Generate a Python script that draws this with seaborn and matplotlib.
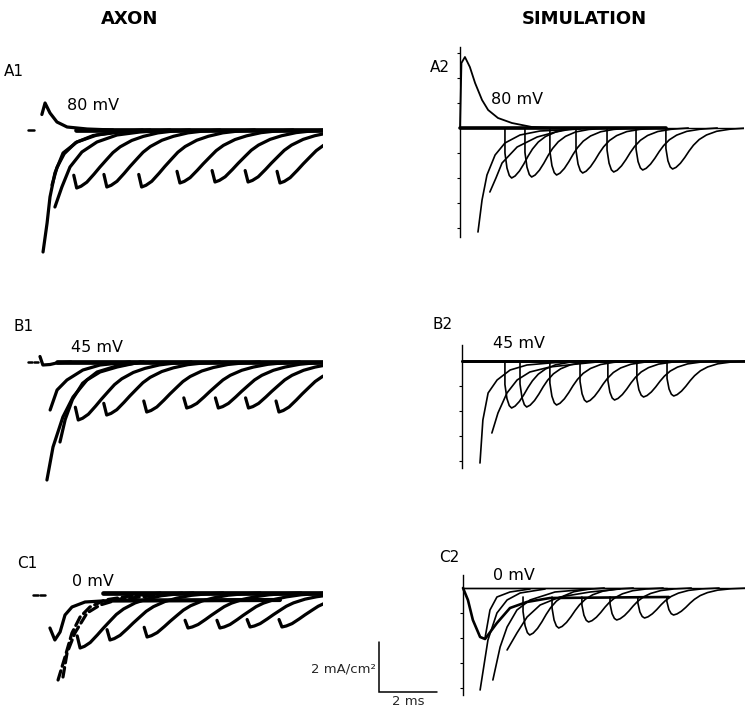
import matplotlib
matplotlib.use("Agg")
import matplotlib.pyplot as plt
import seaborn as sns

# ---------------- data (ms, mA/cm^2) ----------------
# Axon (recorded) traces -------------------------------------------------------
AXON_TAIL_DT = [0, 0.1, 0.25, 0.45, 0.7, 0.9, 1.15, 1.35, 1.6, 2.0, 2.4, 2.9, 3.4, 4.0]
AXON_TAIL_FRAC = [0.78, 1.0, 0.97, 0.9, 0.76, 0.64, 0.5, 0.39, 0.29, 0.18, 0.11, 0.05, 0.02, 0.0]

A1_hold_t = [-0.45, -0.24]
A1_hold_i = [0.0, 0.0]
A1_env_t = [0.03, 0.14, 0.31, 0.55, 0.9, 1.59, 2.48]
A1_env_i = [0.62, 1.08, 0.68, 0.32, 0.12, 0.04, 0.0]
A1_tail_onset = [1.13, 2.17, 3.37, 4.69, 5.9, 7.04, 8.14]
A1_tail_peak = [-2.32, -2.28, -2.28, -2.12, -2.08, -2.08, -2.12]
A1_early_t = [[0.07, 0.21, 0.31, 0.48, 0.76, 1.24, 1.93, 2.72, 3.76],
              [0.48, 0.72, 1.0, 1.41, 1.93, 2.62, 3.41, 4.45],
              [0.38, 0.55, 0.8, 1.2, 1.8, 2.6, 3.5]]
A1_early_i = [[-4.88, -3.72, -2.68, -1.72, -0.92, -0.48, -0.2, -0.08, 0.0],
              [-3.08, -2.28, -1.48, -0.88, -0.48, -0.2, -0.08, 0.0],
              [-2.2, -1.5, -0.95, -0.5, -0.22, -0.08, 0.0]]
A1_end = 9.72

B1_hold_t = [-0.48, -0.34, -0.28, -0.14]
B1_hold_i = [0.0, 0.0, 0.0, 0.0]
B1_env_t = [-0.07, 0.03, 0.28, 0.5, 1.0]
B1_env_i = [0.22, -0.12, -0.1, -0.04, 0.0]
B1_tail_onset = [1.15, 2.13, 3.51, 4.89, 5.98, 7.02, 8.07]
B1_tail_peak = [-2.32, -2.12, -2.0, -1.84, -1.84, -1.84, -2.0]
B1_early_t = [[0.17, 0.38, 0.72, 1.07, 1.55, 2.0, 2.59, 3.4],
              [0.28, 0.52, 0.86, 1.41, 2.0, 3.03],
              [0.62, 0.8, 1.05, 1.4, 1.9, 2.6, 3.5]]
B1_early_i = [[-4.72, -3.4, -2.2, -1.4, -0.72, -0.4, -0.2, 0.0],
              [-1.92, -1.12, -0.72, -0.32, -0.12, 0.0],
              [-3.2, -2.3, -1.5, -0.85, -0.4, -0.15, 0.0]]
B1_end = 9.69

C1_hold_t = [-0.41, -0.25, -0.18, 0.0]
C1_hold_i = [-0.08, -0.08, -0.08, -0.08]
C1_env_t = [0.17, 0.34, 0.52, 0.69, 0.93, 1.38, 2.24, 5.3, 8.1]
C1_env_i = [-1.4, -1.88, -1.56, -0.88, -0.56, -0.36, -0.3, -0.3, -0.28]
C1_tail_onset = [1.11, 2.14, 3.42, 4.83, 5.93, 6.97, 8.07]
C1_tail_peak = [-2.2, -1.88, -1.76, -1.4, -1.4, -1.36, -1.36]
C1_early_t = [[0.45, 0.69, 0.93, 1.21, 1.55, 2.07, 2.93, 4.0],
              [0.62, 0.76, 1.03, 1.45, 1.9, 2.59, 3.62, 4.8]]
C1_early_i = [[-3.48, -2.56, -1.6, -0.96, -0.56, -0.28, -0.12, 0.0],
              [-3.36, -2.4, -1.6, -0.8, -0.48, -0.24, -0.12, 0.0]]
C1_end = 9.59

# Simulation traces -------------------------------------------------------------
SIM_TAIL_DT = [0, 0, 0.07, 0.15, 0.23, 0.35, 0.5, 0.65, 0.8, 0.95, 1.15, 1.4, 1.75, 2.2, 2.8]
SIM_TAIL_FRAC = [0, 0.5, 0.8, 0.95, 1.0, 0.96, 0.86, 0.72, 0.56, 0.42, 0.28, 0.17, 0.08, 0.03, 0.0]

A2_env_t = [0, 0.05, 0.17, 0.34, 0.52, 0.76, 0.97, 1.31, 1.79, 2.48, 3.3, 7.1]
A2_env_i = [0, 2.6, 2.84, 2.44, 1.8, 1.12, 0.72, 0.4, 0.2, 0.04, 0.0, 0.0]
A2_tail_onset = [1.55, 2.24, 3.1, 4.0, 5.07, 6.07, 7.1]
A2_tail_peak = [-2.0, -1.96, -1.88, -1.8, -1.76, -1.68, -1.64]
A2_tail_start = 0.0
A2_early_t = [[0.62, 0.76, 0.93, 1.21, 1.55, 2.07, 2.76, 4.14],
              [1.03, 1.24, 1.45, 1.97, 2.66, 3.55]]
A2_early_i = [[-4.16, -2.88, -1.88, -1.08, -0.6, -0.28, -0.12, -0.04],
              [-2.56, -2.0, -1.4, -0.76, -0.36, -0.08]]
A2_axis = (-4.36, 3.24)

B2_env_t = [0, 9.8]
B2_env_i = [0, 0]
B2_tail_onset = [1.48, 2.0, 3.03, 4.07, 5.03, 6.03, 7.07]
B2_tail_peak = [-1.88, -1.84, -1.76, -1.64, -1.56, -1.44, -1.4]
B2_tail_start = 0.0
B2_early_t = [[0.62, 0.72, 0.9, 1.21, 1.66, 2.24, 3.03, 4.0],
              [1.03, 1.24, 1.55, 1.9, 2.34, 3.03, 3.97, 5.0]]
B2_early_i = [[-4.08, -2.36, -1.28, -0.76, -0.36, -0.16, -0.08, 0.0],
              [-2.88, -2.08, -1.28, -0.76, -0.44, -0.24, -0.12, 0.0]]
B2_axis = (-4.28, 0.64)

C2_env_t = [0, 0.17, 0.34, 0.59, 0.76, 1.17, 1.62, 2.2, 3.0, 7.1]
C2_env_i = [0, -0.48, -1.28, -1.96, -2.04, -1.4, -0.8, -0.56, -0.4, -0.36]
C2_tail_onset = [2.07, 3.07, 4.1, 5.07, 6.03, 7.03]
C2_tail_peak = [-1.88, -1.6, -1.36, -1.28, -1.2, -1.08]
C2_tail_start = -0.36
C2_early_t = [[0.59, 0.86, 1.17, 1.52, 1.97, 2.83],
              [1.03, 1.28, 1.52, 1.86, 2.31, 3.17, 4.38],
              [1.52, 1.86, 2.21, 2.66, 3.34, 4.38, 5.41],
              [0.76, 0.93, 1.17, 1.62, 2.31]]
C2_early_i = [[-4.08, -2.08, -1.0, -0.48, -0.2, -0.04],
              [-3.68, -2.36, -1.56, -0.88, -0.48, -0.16, -0.04],
              [-2.48, -1.8, -1.16, -0.68, -0.36, -0.16, -0.04],
              [-2.0, -0.88, -0.36, -0.16, -0.04]]
C2_axis = (-4.28, 0.52)
SIM_END = 9.8

SCALE_MS = 2.0
SCALE_MA = 2.0

# ---------------- layout ----------------
W, H = 745, 709
PX_MS, PX_MA = 29.0, 25.0

sns.set_theme(style="white")
plt.rcParams["font.family"] = ["DejaVu Sans"]

fig = plt.figure(figsize=(W / 100, H / 100), dpi=100)
fig.patch.set_facecolor("white")


def panel(x0, y0, tmax, tmin=-1.4, imin=-5.0, imax=3.4):
    left = (x0 + tmin * PX_MS) / W
    bottom = (H - (y0 - imin * PX_MA)) / H
    ax = fig.add_axes([left, bottom, (tmax - tmin) * PX_MS / W, (imax - imin) * PX_MA / H])
    ax.set_xlim(tmin, tmax)
    ax.set_ylim(imin, imax)
    ax.patch.set_alpha(0)
    for s in ax.spines.values():
        s.set_visible(False)
    ax.set_xticks([])
    ax.set_yticks([])
    ax.grid(False)
    return ax


def trace(ax, t, i, lw, ls="-"):
    sns.lineplot(x=t, y=i, ax=ax, sort=False, estimator=None, color="black",
                 linewidth=lw, linestyle=ls, solid_capstyle="round",
                 solid_joinstyle="round", dash_capstyle="round")


def axon_panel(ax, hold_t, hold_i, env_t, env_i, onsets, peaks, early_t, early_i,
               t_end, band_from, early_ls="-"):
    lw = 2.3
    trace(ax, hold_t[:2], hold_i[:2], 1.8)
    if len(hold_t) > 2:
        trace(ax, hold_t[2:], hold_i[2:], 1.8)
    trace(ax, env_t, env_i, lw)
    trace(ax, [band_from, t_end], [0, 0], 3.4)
    for et, ei in zip(early_t, early_i):
        trace(ax, et, ei, lw, early_ls)
    for t0, pk in zip(onsets, peaks):
        trace(ax, [t0 + d for d in AXON_TAIL_DT], [pk * f for f in AXON_TAIL_FRAC], lw)
    ax.set_xlim(ax.get_xlim()[0], t_end)


def sim_panel(ax, env_t, env_i, onsets, peaks, start, early_t, early_i, axis_b,
              env_lw, band_lw):
    lw = 1.2
    ax.spines["left"].set_visible(True)
    ax.spines["left"].set_position(("data", 0))
    ax.spines["left"].set_bounds(*axis_b)
    ax.spines["left"].set_color("black")
    ax.spines["left"].set_linewidth(1.0)
    ticks = [v for v in [-4, -3, -2, -1, 1, 2, 3] if axis_b[0] <= v <= axis_b[1]]
    ax.set_yticks(ticks)
    ax.tick_params(axis="y", left=True, length=2.5, width=0.8, color="black",
                   labelleft=False, direction="out")
    ax.hlines(0, 0, SIM_END, color="black", linewidth=1.0)
    trace(ax, env_t, env_i, env_lw)
    trace(ax, [env_t[0], onsets[-1]], [0, 0], band_lw)
    for et, ei in zip(early_t, early_i):
        trace(ax, et, ei, lw)
    for t0, pk in zip(onsets, peaks):
        tt = [t0 + d for d in SIM_TAIL_DT]
        ii = [start] + [pk * f for f in SIM_TAIL_FRAC[1:]]
        trace(ax, tt, ii, lw)
    ax.set_xlim(ax.get_xlim()[0], SIM_END)


axA1 = panel(41, 130, A1_end)
axB1 = panel(42, 362, B1_end)
axC1 = panel(45, 593, C1_end)
axA2 = panel(460, 128, SIM_END)
axB2 = panel(462, 361, SIM_END)
axC2 = panel(463, 588, SIM_END)

axon_panel(axA1, A1_hold_t, A1_hold_i, A1_env_t, A1_env_i, A1_tail_onset, A1_tail_peak,
           A1_early_t, A1_early_i, A1_end, 1.2)
axon_panel(axB1, B1_hold_t, B1_hold_i, B1_env_t, B1_env_i, B1_tail_onset, B1_tail_peak,
           B1_early_t, B1_early_i, B1_end, 0.5)
axon_panel(axC1, C1_hold_t, C1_hold_i, C1_env_t, C1_env_i, C1_tail_onset, C1_tail_peak,
           C1_early_t, C1_early_i, C1_end, 2.0, early_ls=(0, (3, 1.5)))
trace(axC1, [C1_env_t[-3], C1_env_t[-1]], [C1_env_i[-3], C1_env_i[-1]], 3.0)

sim_panel(axA2, A2_env_t, A2_env_i, A2_tail_onset, A2_tail_peak, A2_tail_start,
          A2_early_t, A2_early_i, A2_axis, 1.3, 2.6)
sim_panel(axB2, B2_env_t, B2_env_i, B2_tail_onset, B2_tail_peak, B2_tail_start,
          B2_early_t, B2_early_i, B2_axis, 2.0, 2.0)
sim_panel(axC2, C2_env_t, C2_env_i, C2_tail_onset, C2_tail_peak, C2_tail_start,
          C2_early_t, C2_early_i, C2_axis, 1.9, 1.0)

# scale bar (drawn in the C2 frame)
sb_t, sb_i = -2.9, -4.16
axC2.plot([sb_t, sb_t, sb_t + SCALE_MS], [sb_i + SCALE_MA, sb_i, sb_i], color="black",
          linewidth=1.1, clip_on=False, solid_joinstyle="miter")
axC2.text(sb_t - 0.12, sb_i + 0.9, "2 mA/cm²", ha="right", va="center", fontsize=9.5,
          clip_on=False)
axC2.text(sb_t + SCALE_MS / 2, sb_i - 0.38, "2 ms", ha="center", va="center",
          fontsize=9.5, clip_on=False)


def ftext(px, py, s, size, **kw):
    fig.text(px / W, 1 - py / H, s, ha="center", va="center", fontsize=size,
             color="black", **kw)


ftext(130, 19, "AXON", 13, fontweight="bold")
ftext(584, 19, "SIMULATION", 13, fontweight="bold")
ftext(14, 72, "A1", 11)
ftext(440, 68, "A2", 11)
ftext(24, 327, "B1", 11)
ftext(443, 325, "B2", 11)
ftext(27, 564, "C1", 11)
ftext(449, 558, "C2", 11)
ftext(93, 106, "80 mV", 11.5)
ftext(517, 100, "80 mV", 11.5)
ftext(97, 347, "45 mV", 11.5)
ftext(519, 344, "45 mV", 11.5)
ftext(93, 581, "0 mV", 11.5)
ftext(514, 576, "0 mV", 11.5)

fig.savefig("out.png", dpi=100, facecolor="white")
